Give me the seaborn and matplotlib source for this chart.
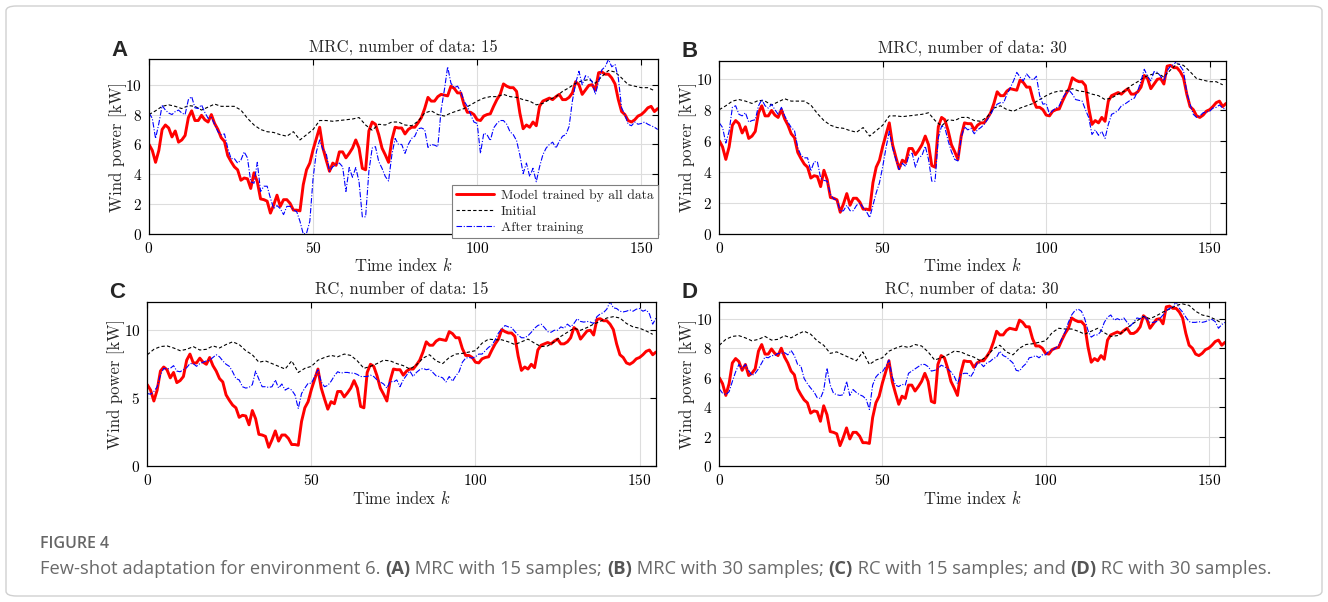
import numpy as np
import matplotlib
matplotlib.use("Agg")
import matplotlib.pyplot as plt
from matplotlib.patches import FancyBboxPatch
import seaborn as sns

# time index and data
k = np.arange(156)
k_init = np.arange(0, 156, 2)

# model trained by all data (same in every panel)
red_all = [6.0, 5.6, 4.8, 5.6, 7.0, 7.3, 7.1, 6.5, 6.9, 6.15,
           6.3, 6.6, 7.8, 8.25, 7.6, 7.6, 7.95, 7.65, 7.5, 8.0,
           7.4, 7.0, 6.45, 6.2, 5.25, 4.85, 4.5, 4.3, 3.6, 3.75,
           3.7, 3.05, 4.1, 3.5, 2.35, 2.3, 2.2, 1.4, 1.95, 2.6,
           1.85, 2.3, 2.3, 2.05, 1.6, 1.6, 1.55, 3.3, 4.3, 4.75,
           5.65, 6.4, 7.15, 5.75, 4.95, 4.2, 4.75, 4.6, 5.5, 5.5,
           5.1, 5.4, 5.75, 6.3, 5.75, 4.4, 4.3, 6.9, 7.5, 7.35,
           6.65, 5.75, 5.3, 4.8, 6.3, 7.15, 7.1, 7.1, 6.7, 7.0,
           7.15, 7.15, 7.45, 7.8, 8.4, 9.15, 8.9, 8.9, 9.2, 9.35,
           9.3, 9.25, 9.9, 9.75, 9.45, 9.45, 8.65, 8.15, 8.15, 8.0,
           7.65, 7.6, 7.9, 8.0, 8.05, 8.55, 9.0, 9.35, 10.05, 9.9,
           9.8, 9.8, 9.55, 8.1, 7.05, 7.3, 7.15, 7.5, 7.25, 8.55,
           8.9, 9.0, 9.1, 9.0, 9.2, 9.35, 9.0, 9.0, 9.15, 9.45,
           10.2, 10.0, 9.35, 9.65, 9.95, 10.0, 9.65, 10.8, 10.85, 10.7,
           10.7, 10.45, 10.05, 9.0, 8.2, 8.0, 7.6, 7.5, 7.65, 7.9,
           8.0, 8.2, 8.45, 8.55, 8.2, 8.4]

# initial models (every second index)
init_mrc = [8.0, 8.25, 8.55, 8.65, 8.55, 8.4, 8.6, 8.55, 8.3, 8.5,
            8.7, 8.55, 8.55, 8.55, 8.3, 7.75, 7.3, 7.0, 6.85, 6.8,
            6.65, 6.55, 6.85, 6.3, 6.65, 7.0, 7.6, 7.6, 7.55, 7.6,
            7.65, 7.7, 7.8, 7.3, 6.95, 7.35, 7.3, 7.5, 7.5, 7.3,
            7.25, 7.55, 8.1, 8.25, 8.0, 7.9, 8.1, 8.25, 8.4, 8.65,
            8.9, 9.1, 9.2, 9.2, 9.35, 9.2, 9.15, 9.0, 8.9, 8.65,
            8.75, 9.0, 9.2, 9.55, 9.8, 10.1, 10.25, 10.35, 10.1, 10.55,
            10.95, 10.85, 10.45, 10.0, 9.9, 9.8, 9.8, 9.6]
init_rc = [8.2, 8.6, 8.8, 8.85, 8.7, 8.5, 8.6, 8.8, 8.55, 8.6,
           8.85, 8.7, 8.95, 9.15, 8.95, 8.5, 8.2, 7.65, 7.75, 7.55,
           7.35, 7.15, 7.75, 6.9, 7.2, 7.35, 7.8, 8.0, 8.15, 8.05,
           8.25, 8.15, 7.75, 7.2, 7.35, 7.55, 7.8, 7.75, 7.55, 7.4,
           7.15, 7.45, 7.95, 8.2, 7.75, 7.55, 8.0, 8.25, 8.3, 8.4,
           8.5, 9.05, 9.35, 9.3, 9.3, 9.15, 8.95, 9.15, 9.35, 9.05,
           8.8, 8.85, 9.15, 9.55, 9.85, 10.15, 10.0, 10.2, 10.45, 10.65,
           10.9, 11.0, 10.9, 10.5, 10.25, 10.15, 9.95, 9.7]

# after training
after_mrc15 = [8.1, 7.75, 6.4, 7.4, 8.6, 8.3, 8.1, 8.0, 8.2, 8.3,
               8.1, 8.0, 9.0, 9.2, 8.45, 8.4, 8.65, 8.15, 7.75, 7.8,
               7.35, 6.85, 6.65, 6.7, 5.75, 5.05, 5.05, 4.75, 4.95, 5.5,
               5.1, 3.5, 3.4, 4.8, 2.85, 3.2, 3.2, 2.4, 1.7, 1.9,
               1.7, 1.3, 1.85, 1.85, 1.6, 1.5, 0.85, 0.0, 0.05, 0.85,
               3.75, 5.5, 6.3, 5.65, 5.4, 4.2, 4.5, 4.65, 4.75, 4.5,
               2.85, 4.45, 3.8, 4.45, 3.5, 1.15, 1.15, 4.2, 5.75, 5.85,
               4.85, 4.4, 3.85, 3.55, 5.3, 6.4, 6.0, 6.0, 5.4, 6.0,
               6.4, 6.55, 7.05, 7.1, 7.0, 5.8, 6.0, 5.95, 5.85, 8.3,
               9.65, 11.2, 10.1, 9.8, 9.9, 9.55, 8.9, 8.55, 8.0, 7.5,
               7.4, 5.4, 6.75, 6.65, 6.25, 7.1, 7.4, 7.6, 7.6, 7.35,
               6.85, 6.65, 6.25, 5.3, 4.05, 4.75, 3.85, 4.4, 3.5, 4.5,
               5.3, 5.75, 6.0, 6.15, 5.75, 6.2, 6.55, 6.65, 7.2, 8.9,
               10.1, 10.9, 10.0, 10.6, 10.5, 10.2, 9.35, 10.2, 11.0, 11.2,
               11.7, 11.2, 11.35, 10.45, 8.45, 8.0, 7.35, 7.25, 7.5, 7.35,
               7.4, 7.5, 7.35, 7.25, 7.15, 7.0]
after_mrc30 = [7.15, 6.85, 5.85, 6.6, 8.15, 8.25, 7.7, 7.6, 7.8, 7.2,
               7.3, 7.35, 8.25, 8.65, 8.25, 8.1, 8.35, 8.0, 7.7, 8.15,
               7.6, 7.2, 6.85, 6.65, 5.55, 5.05, 4.9, 4.9, 4.05, 4.65,
               4.65, 3.6, 3.45, 3.4, 2.55, 2.25, 2.2, 1.45, 1.5, 1.85,
               1.5, 1.5, 1.85, 2.0, 1.7, 1.45, 1.05, 1.85, 2.65, 3.3,
               4.35, 5.55, 6.6, 5.55, 4.8, 4.15, 4.55, 4.35, 5.05, 5.2,
               4.3, 4.9, 5.05, 5.65, 4.8, 3.4, 3.4, 6.2, 6.95, 6.85,
               6.0, 5.3, 4.8, 4.7, 6.2, 6.9, 6.7, 6.8, 6.45, 6.7,
               6.85, 7.05, 7.35, 7.7, 8.1, 8.35, 8.45, 8.45, 9.0, 9.4,
               9.85, 10.4, 10.1, 9.85, 10.3, 10.05, 9.9, 10.15, 8.9, 8.35,
               8.4, 7.7, 7.95, 8.1, 8.25, 8.75, 9.05, 9.25, 9.0, 8.65,
               8.6, 8.55, 8.0, 7.5, 6.4, 6.7, 6.35, 6.6, 6.15, 7.05,
               7.7, 7.8, 7.95, 8.25, 8.35, 8.5, 8.65, 8.75, 9.2, 9.85,
               10.6, 10.15, 9.85, 10.45, 10.4, 10.15, 9.85, 10.5, 10.8, 10.9,
               11.15, 10.8, 10.5, 9.1, 8.35, 7.7, 7.5, 7.6, 7.8, 7.85,
               7.9, 8.1, 8.15, 8.3, 8.1, 8.0]
after_rc15 = [5.35, 5.3, 5.5, 5.85, 6.7, 7.2, 7.15, 7.2, 7.4, 7.0,
              6.95, 7.1, 7.25, 7.55, 7.55, 7.35, 7.55, 7.65, 7.75, 7.8,
              8.0, 8.2, 8.05, 7.75, 7.5, 7.35, 6.95, 6.45, 6.35, 5.85,
              5.75, 5.8, 6.0, 7.0, 6.4, 5.85, 5.85, 5.8, 5.85, 6.35,
              5.75, 6.05, 5.6, 5.75, 5.6, 5.25, 4.25, 5.35, 5.75, 6.1,
              6.1, 6.6, 7.1, 6.2, 5.85, 5.95, 6.25, 6.65, 6.95, 6.85,
              6.9, 6.9, 6.85, 6.85, 6.75, 6.6, 6.6, 6.6, 6.7, 6.6,
              6.35, 6.2, 6.05, 5.75, 6.25, 6.2, 6.35, 5.85, 6.35, 6.7,
              7.0, 6.6, 6.9, 7.1, 7.2, 7.1, 7.15, 6.9, 6.65, 6.6,
              6.5, 6.2, 6.6, 6.25, 6.65, 6.95, 7.65, 7.95, 8.0, 7.95,
              8.05, 8.25, 8.25, 8.5, 8.75, 8.9, 9.3, 9.8, 10.1, 10.35,
              10.25, 10.2, 9.9, 9.65, 9.45, 9.45, 9.6, 9.85, 10.15, 10.35,
              10.45, 10.2, 9.9, 9.85, 10.0, 10.0, 10.25, 10.15, 10.45, 10.25,
              10.5, 10.85, 10.65, 10.6, 10.65, 10.6, 10.5, 11.0, 11.2, 11.3,
              11.55, 12.1, 11.65, 11.6, 11.4, 11.35, 11.4, 11.5, 11.4, 11.55,
              11.6, 11.4, 11.5, 11.2, 10.45, 10.9]
after_rc30 = [5.25, 4.95, 4.85, 5.05, 5.75, 6.4, 6.9, 6.6, 6.9, 6.5,
              6.15, 6.3, 6.6, 7.0, 7.4, 7.35, 7.5, 7.5, 7.65, 7.65,
              7.7, 7.55, 7.85, 7.5, 6.9, 6.8, 5.95, 5.6, 5.3, 5.05,
              4.65, 4.6, 5.15, 6.65, 5.5, 4.95, 4.85, 4.8, 4.85, 5.75,
              4.8, 5.2, 5.0, 4.85, 4.75, 4.55, 3.85, 5.5, 6.05, 6.3,
              6.4, 6.75, 7.2, 6.05, 5.5, 5.4, 5.55, 5.5, 6.3, 6.45,
              6.6, 6.75, 6.9, 6.9, 6.75, 6.45, 6.5, 6.6, 6.85, 6.75,
              6.6, 6.4, 6.1, 5.6, 6.2, 6.3, 6.3, 6.05, 6.4, 7.0,
              7.0, 6.75, 7.0, 7.1, 7.3, 7.4, 7.8, 7.5, 7.4, 7.2,
              7.0, 6.5, 6.45, 6.75, 6.95, 7.35, 7.4, 7.5, 7.35, 7.55,
              7.55, 7.8, 7.85, 8.0, 8.2, 8.65, 9.1, 9.75, 10.25, 10.55,
              10.65, 10.5, 10.0, 9.2, 8.75, 8.9, 8.9, 9.15, 9.75, 10.1,
              10.25, 9.9, 10.0, 9.9, 10.05, 9.75, 9.5, 9.75, 10.05, 10.0,
              10.2, 10.0, 9.75, 9.75, 9.8, 10.0, 10.25, 10.55, 10.7, 10.8,
              11.15, 10.7, 10.45, 10.1, 9.8, 9.75, 9.75, 9.8, 9.75, 9.8,
              9.9, 9.95, 9.8, 9.35, 9.6, 9.75]

panels = [
    ("A", "MRC, number of data: 15", init_mrc, after_mrc15, [0, 2, 4, 6, 8, 10]),
    ("B", "MRC, number of data: 30", init_mrc, after_mrc30, [0, 2, 4, 6, 8, 10]),
    ("C", "RC, number of data: 15", init_rc, after_rc15, [0, 5, 10]),
    ("D", "RC, number of data: 30", init_rc, after_rc30, [0, 2, 4, 6, 8, 10]),
]

sns.set_style("white")
plt.rcParams["font.family"] = "serif"
plt.rcParams["font.serif"] = ["cmr10"]
plt.rcParams["mathtext.fontset"] = "cm"
plt.rcParams["axes.formatter.use_mathtext"] = True

W, H = 1328, 602
fig = plt.figure(figsize=(W / 100, H / 100), dpi=100)

# axes boxes in pixels: left, top, right, bottom
boxes = [(149, 59.3, 657.7, 234), (719.3, 60.7, 1226, 234),
         (147.3, 301.7, 656, 466.3), (719.3, 301.7, 1225, 466.3)]

for (letter, title, init, after, yt), (l, t, r, b) in zip(panels, boxes):
    ax = fig.add_axes([l / W, 1 - b / H, (r - l) / W, (b - t) / H])
    sns.lineplot(x=k, y=red_all, ax=ax, color="red", lw=2.1,
                 label="Model trained by all data")
    sns.lineplot(x=k_init, y=init, ax=ax, color="black", lw=0.8,
                 ls=(0, (3, 2)), label="Initial")
    sns.lineplot(x=k, y=after, ax=ax, color="blue", lw=0.8,
                 ls=(0, (5, 1.5, 1, 1.5)), label="After training")
    top = max(max(red_all), max(init), max(after))
    ax.set_xlim(0, 155)
    ax.set_ylim(0, top)
    ax.set_xticks([0, 50, 100, 150])
    ax.set_yticks(yt)
    ax.grid(True, color="#dddddd", lw=0.8)
    ax.set_axisbelow(True)
    for s in ax.spines.values():
        s.set_color("black")
        s.set_linewidth(0.9)
    ax.tick_params(direction="in", length=4, width=0.8, top=True, right=True,
                   labelsize=11, colors="black", pad=5)
    ax.set_title(title, fontsize=12, pad=5)
    ax.set_xlabel("Time index $k$", fontsize=12, labelpad=1)
    ax.set_ylabel("Wind power [kW]", fontsize=12, labelpad=-1)
    if letter == "A":
        leg = ax.legend(loc="lower right", bbox_to_anchor=(1.0, -0.023),
                        borderaxespad=0, fontsize=9.8, frameon=True,
                        fancybox=False, edgecolor="#7f7f7f", framealpha=1,
                        borderpad=0.3, labelspacing=0.25, handlelength=2.8,
                        handletextpad=0.5)
        leg.get_frame().set_linewidth(0.8)
    else:
        ax.get_legend().remove()
    fig.text((l - 38) / W, 1 - (t - 9) / H, letter, fontsize=16,
             fontweight="bold", family="Liberation Sans", ha="left", va="center")

# outer frame
fig.patches.append(FancyBboxPatch((6 / W, 6 / H), 1 - 12 / W, 1 - 12 / H,
                                  boxstyle="round,pad=0,rounding_size=0.008",
                                  transform=fig.transFigure, fill=False,
                                  edgecolor="#d0d0d0", lw=1))

# caption
fig.text(40 / W, 1 - 544 / H, "FIGURE 4", fontsize=11.5, family="Open Sans",
         fontweight="semibold", color="#666666", va="center")
segs = [("Few-shot adaptation for environment 6. ", False), ("(A)", True),
        (" MRC with 15 samples; ", False), ("(B)", True),
        (" MRC with 30 samples; ", False), ("(C)", True),
        (" RC with 15 samples; and ", False), ("(D)", True),
        (" RC with 30 samples.", False)]
renderer = fig.canvas.get_renderer()
x = 40
for s, bold in segs:
    txt = fig.text(x / W, 1 - 569 / H, s, fontsize=13.2, family="Open Sans",
                   fontweight="bold" if bold else "normal",
                   color="#555555" if bold else "#6a6a6a", va="center")
    x = txt.get_window_extent(renderer).x1

fig.savefig("out.png", dpi=100)
